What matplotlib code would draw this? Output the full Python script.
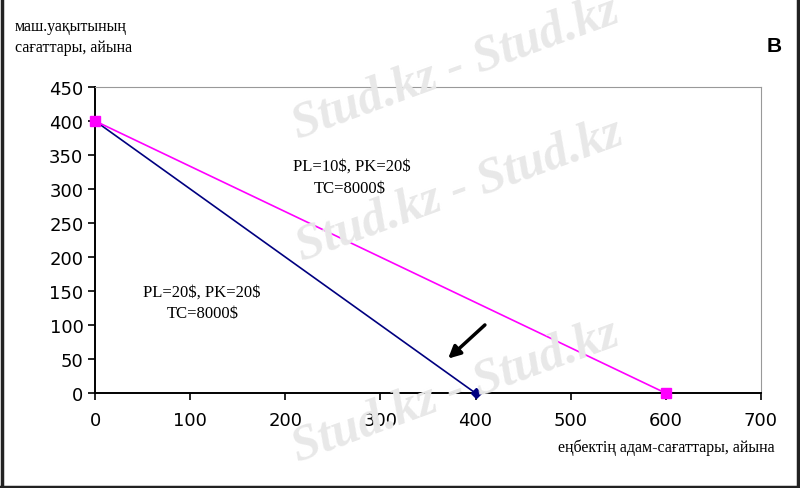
import numpy as np
import matplotlib.pyplot as plt
from matplotlib.lines import Line2D

# бюджет сызықтары (изокосталар)
x_a = [0, 400]   # PL=20$, PK=20$
y_a = [400, 0]
x_b = [0, 600]   # PL=10$, PK=20$
y_b = [400, 0]

xticks = [0, 100, 200, 300, 400, 500, 600, 700]
yticks = [0, 50, 100, 150, 200, 250, 300, 350, 400, 450]

fig = plt.figure(figsize=(8, 4.89), dpi=100)
ax = fig.add_axes([0.119, 0.194, 0.832, 0.626])

# su belgi (watermark)
for (wx, wy) in [(0.57, 0.86), (0.575, 0.61), (0.57, 0.20)]:
    fig.text(wx, wy, 'Stud.kz - Stud.kz', color='#e8e8e8', fontsize=36,
             family='Liberation Serif', weight='bold', style='italic',
             rotation=20, ha='center', va='center', zorder=0)

ax.patch.set_alpha(0)
ax.plot(x_a, y_a, color='#000080', lw=1.2, marker='D', ms=5, zorder=3, clip_on=False)
ax.plot(x_b, y_b, color='#FF00FF', lw=1.2, marker='s', ms=7, zorder=3, clip_on=False)

ax.set_xlim(0, 700)
ax.set_ylim(0, 450)
ax.set_xticks(xticks)
ax.set_yticks(yticks)
ax.tick_params(labelsize=13, direction='out', length=5, width=1.2)
ax.tick_params(axis='x', pad=8)
for s in ['top', 'right']:
    ax.spines[s].set_color('#999999')
for s in ['left', 'bottom']:
    ax.spines[s].set_linewidth(1.4)
    ax.spines[s].set_color('black')

ax.text(270, 334, r'PL=10\$, PK=20\$', family='Liberation Serif', fontsize=12, ha='center', va='center')
ax.text(268, 301, r'TC=8000\$', family='Liberation Serif', fontsize=12, ha='center', va='center')
ax.text(112, 149, r'PL=20\$, PK=20\$', family='Liberation Serif', fontsize=12, ha='center', va='center')
ax.text(113, 118, r'TC=8000\$', family='Liberation Serif', fontsize=12, ha='center', va='center')

ax.annotate('', xy=(369, 48), xytext=(412, 103),
            arrowprops=dict(arrowstyle='-|>', color='black', lw=2.5, mutation_scale=18))

fig.text(15 / 800, 1 - 27 / 489, 'маш.уақытының', family='Liberation Serif', fontsize=11.5, va='center')
fig.text(15 / 800, 1 - 48 / 489, 'сағаттары, айына', family='Liberation Serif', fontsize=11.5, va='center')
fig.text(775 / 800, 1 - 448 / 489, 'еңбектің адам-сағаттары, айына', family='Liberation Serif',
         fontsize=11.5, ha='right', va='center')
fig.text(782 / 800, 1 - 47 / 489, 'B', family='Liberation Sans', weight='bold', fontsize=15,
         ha='right', va='center')

# сыртқы жақтау
for xs, ys in [([0.002, 0.002], [0, 1]), ([0.997, 0.997], [0, 1]), ([0, 1], [0.003, 0.003])]:
    fig.add_artist(Line2D(xs, ys, color='#222222', lw=2.5, transform=fig.transFigure))

fig.savefig('out.png', dpi=100)
